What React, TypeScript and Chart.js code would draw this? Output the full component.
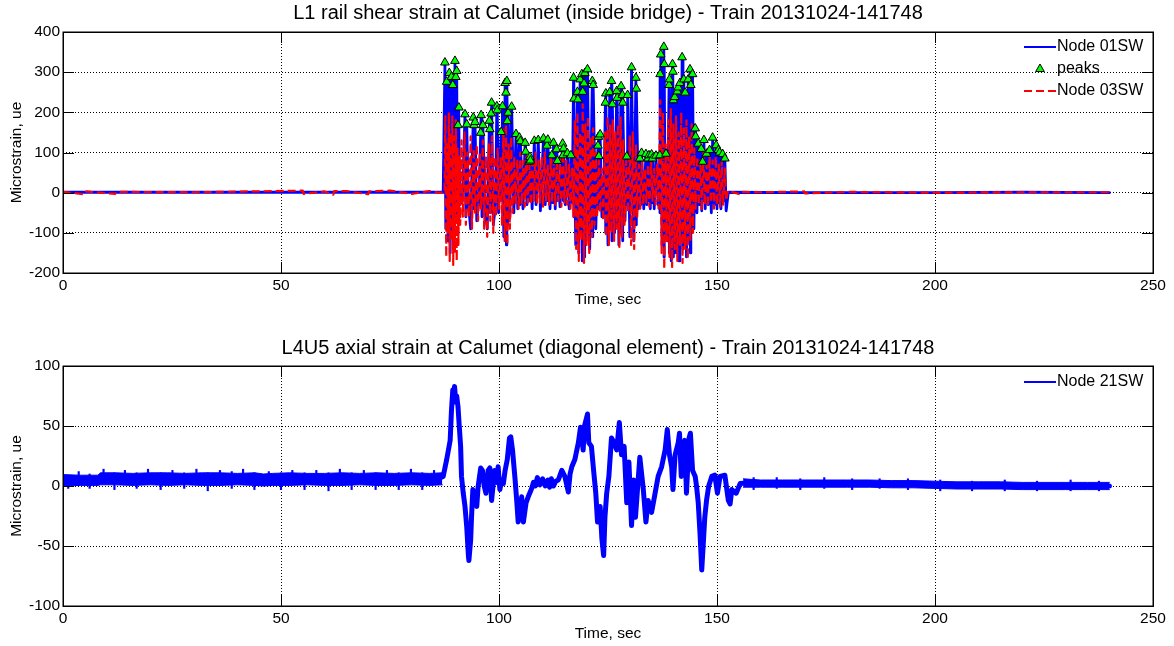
import React, { useEffect, useRef } from 'react';
import { Chart, registerables } from 'chart.js';

Chart.register(...registerables);

const FONT = '"Liberation Sans", Arial, Helvetica, sans-serif';

// ---------- text ----------
const topTitle = 'L1 rail shear strain at Calumet (inside bridge) - Train 20131024-141748';
const bottomTitle = 'L4U5 axial strain at Calumet (diagonal element) - Train 20131024-141748';
const xLabel = 'Time, sec';
const yLabel = 'Microstrain, ue';

// ---------- axes ----------
const xRange = [0, 250];
const xStep = 50;
const topYRange = [-200, 400];
const topYStep = 100;
const bottomYRange = [-100, 100];
const bottomYStep = 50;

// ---------- Node 01SW (blue) ----------
const node01Before: [number, number][] = [[0, 1], [20, 1], [40, 1], [60, 1], [80, 1], [87.2, 1]];
const node01Peaks: [number, number][] = [
  [87.6, 324], [88.0, 276], [88.6, 298], [89.1, 288], [89.4, 268], [89.9, 328], [90.1, 288], [90.3, 303],
  [90.6, 168], [90.8, 212], [92.2, 195], [92.6, 170], [94.1, 187], [94.3, 168], [94.5, 176], [95.8, 149],
  [95.9, 193], [96.3, 168], [97.8, 179], [97.9, 158], [98.2, 197], [98.3, 224], [99.5, 215], [99.6, 205],
  [100.5, 151], [100.8, 215], [101.4, 273], [101.6, 249], [101.8, 278], [101.9, 178], [102.1, 199], [102.9, 214],
  [103.9, 146], [104.7, 137], [104.9, 128], [106.0, 124], [106.1, 102], [106.9, 77], [107.1, 89], [107.2, 80],
  [108.1, 129], [109.0, 131], [110.2, 135], [111.0, 117], [111.2, 132], [112.1, 93], [112.5, 124], [113.2, 108],
  [113.4, 79], [114.6, 122], [114.7, 93], [114.8, 110], [115.7, 98], [116.5, 93], [117.1, 286], [117.2, 234],
  [118.0, 251], [118.1, 232], [118.6, 282], [119.0, 295], [119.2, 251], [119.5, 272], [119.7, 298], [120.3, 307],
  [121.4, 278], [121.6, 268], [122.7, 117], [122.8, 139], [122.9, 91], [123.2, 145], [124.4, 224], [124.5, 247],
  [125.4, 250], [125.8, 278], [126.0, 220], [127.0, 253], [127.1, 236], [128.0, 265], [128.3, 243], [128.4, 224],
  [129.3, 90], [129.5, 243], [130.4, 312], [131.4, 286], [131.5, 259], [132.3, 85], [132.7, 99], [133.7, 96],
  [134.2, 85], [134.4, 93], [135.0, 95], [135.2, 85], [136.0, 92], [136.9, 93], [136.95, 295], [137.1, 344],
  [137.8, 363], [137.9, 320], [138.3, 97], [139.0, 268], [139.1, 282], [139.8, 320], [139.9, 301], [140.0, 230],
  [140.3, 238], [140.9, 252], [141.1, 262], [141.5, 273], [142.0, 337], [142.4, 282], [142.7, 249], [143.4, 282],
  [143.8, 307], [144.0, 268], [144.4, 295], [145.0, 160], [145.1, 140], [145.7, 122], [146.4, 109], [146.7, 77],
  [147.0, 131], [147.6, 97], [148.3, 106], [149.0, 137], [149.8, 118], [150.3, 106], [150.6, 100], [151.3, 96],
  [151.8, 85],
];
const node01Troughs: [number, number][] = [
  [87.8, -90], [88.3, -120], [88.8, -150], [89.2, -110], [89.6, -140], [90.0, -60], [90.45, -40], [90.7, -80],
  [91.0, -30], [91.6, -20], [92.4, -60], [93.0, -30], [93.5, -90], [94.2, -40], [94.9, -70], [95.4, -20],
  [96.1, -60], [96.8, -40], [97.3, -90], [98.0, -50], [98.7, -80], [99.2, -30], [99.9, -50], [100.6, -20],
  [101.1, -110], [101.5, -60], [101.7, -130], [102.0, -80], [102.5, -60], [103.4, -50], [104.3, -40], [104.8, -30],
  [105.5, -40], [106.4, -30], [107.0, -20], [107.6, -40], [108.5, -30], [109.5, -45], [110.6, -30], [111.1, -20],
  [111.7, -40], [112.3, -25], [112.9, -40], [113.3, -20], [114.0, -35], [114.75, -20], [115.2, -30], [116.1, -40],
  [116.8, -25], [117.15, -60], [117.6, -130], [118.05, -80], [118.3, -150], [118.8, -100], [119.1, -170], [119.35, -120],
  [119.6, -160], [120.0, -120], [120.8, -140], [121.5, -110], [122.2, -90], [122.75, -20], [122.85, -40], [123.6, -60],
  [124.0, -50], [124.45, -100], [125.0, -130], [125.6, -90], [125.9, -120], [126.5, -100], [127.05, -80], [127.5, -130],
  [128.15, -100], [128.35, -120], [128.9, -70], [129.4, -30], [130.0, -110], [130.9, -120], [131.45, -80], [132.0, -40],
  [132.5, -30], [133.2, -40], [133.9, -30], [134.3, -20], [134.7, -40], [135.1, -25], [135.6, -40], [136.5, -30],
  [136.92, -50], [137.4, -130], [137.85, -160], [138.1, -60], [138.6, -120], [139.05, -150], [139.5, -170], [139.85, -110],
  [139.95, -160], [140.15, -100], [140.6, -150], [141.0, -120], [141.3, -170], [141.7, -110], [142.2, -140], [142.5, -120],
  [143.0, -160], [143.6, -110], [143.9, -150], [144.2, -100], [144.7, -90], [145.05, -20], [145.4, -50], [146.0, -30],
  [146.5, -45], [146.85, -20], [147.3, -40], [148.0, -30], [148.7, -50], [149.4, -30], [150.0, -40], [150.45, -25],
  [150.9, -40], [151.5, -20], [152.1, -45],
];
const node01After: [number, number][] = [[152.6, 1], [170, 0], [200, 0], [220, 1], [240, 0]];

// ---------- Node 03SW (red dashed) ----------
const node03Before: [number, number][] = [
  [0, 2], [5, -4], [5.3, 3], [12, -3], [12.2, 2], [30, 1], [55, 5], [55.2, -3], [60, 3], [62, -5], [62.2, 4],
  [65, 4], [70, -4], [70.2, 3], [75, 5], [80, -3], [84, 4], [86, 0], [87.5, 0],
];
const node03Swing: [number, number][] = [
  [87.7, 190], [87.9, -160], [88.1, 120], [88.3, -100], [88.5, 200], [88.7, -170], [88.9, 150], [89.1, -120],
  [89.3, 190], [89.5, -180], [89.7, 140], [89.9, -150], [90.1, 180], [90.3, -170], [90.5, 110], [90.7, -130],
  [90.9, 90], [91.1, -80], [91.4, 130], [91.7, -60], [92.1, 150], [92.4, -80], [92.8, 100], [93.1, -60],
  [93.5, 140], [93.8, -90], [94.2, 110], [94.5, -50], [94.9, 120], [95.2, -70], [95.6, 100], [95.9, -40],
  [96.3, 130], [96.6, -90], [97.0, 90], [97.3, -110], [97.7, 120], [98.0, -70], [98.4, 140], [98.7, -100],
  [99.0, 90], [99.3, -60], [99.7, 110], [100.0, -40], [100.4, 90], [100.7, -80], [101.0, 160], [101.3, -120],
  [101.6, 170], [101.9, -130], [102.2, 120], [102.5, -90], [102.8, 140], [103.1, -50], [103.5, 90], [103.8, -30],
  [104.2, 80], [104.5, -40], [104.9, 100], [105.2, -30], [105.6, 80], [105.9, -35], [106.3, 90], [106.6, -25],
  [107.0, 70], [107.3, -30], [107.7, 90], [108.0, -20], [108.4, 100], [108.7, -30], [109.1, 80], [109.4, -25],
  [109.8, 90], [110.1, -35], [110.5, 100], [110.8, -20], [111.2, 70], [111.5, -30], [111.9, 90], [112.2, -25],
  [112.6, 80], [112.9, -30], [113.3, 70], [113.6, -20], [114.0, 90], [114.3, -35], [114.7, 100], [115.0, -25],
  [115.4, 80], [115.7, -30], [116.1, 70], [116.4, -40], [116.8, 60], [117.1, -60], [117.4, 180], [117.7, -140],
  [118.0, 200], [118.3, -170], [118.6, 150], [118.9, -120], [119.2, 220], [119.5, -175], [119.8, 170], [120.1, -130],
  [120.4, 190], [120.7, -150], [121.0, 140], [121.3, -110], [121.6, 160], [121.9, -80], [122.2, 100], [122.5, -60],
  [122.9, 80], [123.2, -50], [123.6, 60], [123.9, -70], [124.3, 150], [124.6, -110], [124.9, 190], [125.2, -130],
  [125.5, 170], [125.8, -100], [126.1, 180], [126.4, -120], [126.7, 150], [127.0, -90], [127.3, 170], [127.6, -135],
  [127.9, 190], [128.2, -110], [128.5, 130], [128.8, -80], [129.2, 80], [129.6, -50], [130.0, 140], [130.3, -130],
  [130.7, 150], [131.0, -140], [131.4, 120], [131.7, -60], [132.1, 70], [132.4, -40], [132.8, 80], [133.1, -30],
  [133.5, 60], [133.8, -25], [134.2, 70], [134.5, -35], [134.9, 80], [135.2, -20], [135.6, 60], [135.9, -30],
  [136.3, 70], [136.6, -40], [137.0, 230], [137.3, -150], [137.6, 200], [137.9, -190], [138.2, 120], [138.5, -120],
  [138.8, 180], [139.1, -160], [139.4, 210], [139.7, -185], [140.0, 170], [140.3, -140], [140.6, 190], [140.9, -170],
  [141.2, 150], [141.5, -130], [141.8, 200], [142.1, -175], [142.4, 160], [142.7, -140], [143.0, 180], [143.3, -165],
  [143.6, 140], [143.9, -120], [144.2, 170], [144.5, -100], [144.8, 110], [145.1, -40], [145.5, 90], [145.8, -30],
  [146.2, 80], [146.5, -45], [146.9, 100], [147.2, -30], [147.6, 70], [147.9, -35], [148.3, 90], [148.6, -25],
  [149.0, 80], [149.3, -40], [149.7, 90], [150.0, -30], [150.4, 70], [150.7, -35], [151.1, 80], [151.4, -30],
  [151.8, 60], [152.1, -20], [152.5, 5],
];
const node03After: [number, number][] = [
  [153, 3], [155, -3], [155.3, 2], [160, 1], [170, 3], [170.2, -2], [180, 2], [200, 0], [220, 1], [240, 1],
];

// ---------- Node 21SW (blue, bottom) ----------
const node21Trace: [number, number][] = [
  [0, 4], [8, 4], [9, 6], [20, 6], [30, 6], [46, 5], [60, 5], [75, 5], [86, 6], [87.2, 8], [88.0, 22],
  [88.8, 38], [89.1, 63], [89.4, 80], [89.6, 74], [89.8, 83], [90.1, 70], [90.3, 75], [90.6, 66], [90.9, 49],
  [91.2, 33], [91.4, 8],
  [91.8, -6], [92.2, -17], [92.6, -34], [93.0, -59], [93.1, -62], [93.5, -45], [93.7, -26], [94.0, -3],
  [94.2, -5], [94.5, -12], [94.9, -17], [95.2, -1], [95.8, 15], [96.2, 13], [96.6, 0], [97.0, -6], [97.5, 13],
  [97.9, 15], [98.3, -12], [98.6, -1], [99.0, 13], [99.5, 3], [99.8, 16], [100.2, -3], [100.6, 5], [101.0, 2],
  [101.4, 13], [101.9, 22], [102.4, 40], [102.7, 41], [103.1, 30], [103.7, 5], [104.1, -14], [104.4, -30],
  [104.8, -24], [105.2, -9], [105.6, -30], [106.2, -14], [106.7, -9], [107.4, -3], [107.9, 3], [108.3, 0],
  [108.8, 7], [109.4, 1], [110.0, 6], [110.6, 0], [111.2, 5], [111.6, -1], [112.0, 6], [112.5, 0], [113.0, 4],
  [113.6, 5], [114.0, 9], [114.4, 13], [115.1, 8], [115.9, -5], [116.3, 10], [116.7, 16], [117.4, 22], [118.2, 36],
  [118.7, 49], [119.3, 30], [119.6, 50], [120.3, 60], [120.6, 36], [121.2, 33], [121.7, 13], [122.2, -6],
  [122.6, -30], [123.2, -17], [123.6, -44], [124.0, -58], [124.3, -26], [124.7, -6], [125.2, 8], [125.8, 40],
  [126.4, 36], [127.0, 30], [127.6, 53], [128.1, 26], [128.7, 33], [129.3, -14], [129.8, 20], [130.4, -33],
  [130.9, 5], [131.3, -26], [132.3, 24], [133.1, -3], [133.7, -30], [134.2, -12], [135.0, -22], [135.8, -6],
  [136.5, 8], [137.3, 16], [138.1, 30], [138.6, 47], [139.1, 26], [139.6, 16], [139.9, -3], [140.4, 26],
  [141.1, 36], [141.4, 44], [141.8, 8], [142.2, 30], [142.6, 38], [143.0, -6], [143.6, 40], [143.9, 44],
  [144.4, 13], [145.0, 8], [145.3, 0], [145.7, -14], [146.1, -39], [146.5, -70], [146.9, -45], [147.2, -26],
  [147.6, -12], [148.1, 0], [148.8, 8], [149.5, 9], [150.1, -6], [150.7, 8], [151.8, 9], [152.6, -12],
  [153.0, -15], [153.4, -3], [154.4, -6], [155.3, 2], [158, 3], [165, 2], [180, 2], [200, 1], [220, 0], [240, 0],
];
const earlyNoiseTime = [0, 4, 8, 8.6, 12, 16, 20, 24, 28, 32, 36, 40, 44, 46, 48, 52, 56, 60, 64, 68, 72, 76, 80, 84, 87];
const earlyNoiseUpper = [9.5, 9, 9, 11, 11, 10.5, 11, 11, 10.5, 11, 11, 10.5, 11, 10, 10.5, 11, 10.5, 10.5, 11, 10.5, 11, 10.5, 11, 10.5, 11];
const earlyNoiseLower = [0, 0.5, 0.5, 1, 1, 0.5, 1, 0.5, 1, 0.5, 0.5, 1, 0.5, 0, 0.5, 0.5, 1, 0.5, 0.5, 1, 0.5, 0.5, 1, 0.5, 1];
// short noise spikes: [time, low, high]
const earlySpikes: [number, number, number][] = [
  [1.2, -2, 9], [3.6, 0, 12], [6.1, -2, 10], [9.3, 2, 14], [11.8, -3, 11], [14.2, 2, 13], [16.9, -2, 11],
  [19.5, 2, 14], [22.4, -3, 11], [25.1, 2, 13], [27.8, -2, 11], [30.6, 2, 14], [33.2, -4, 11], [36.0, 2, 13],
  [38.7, -2, 12], [41.3, 2, 14], [43.9, -3, 11], [47.2, 1, 12], [50.0, -3, 11], [52.6, 2, 13], [55.4, -3, 11],
  [58.1, 2, 13], [60.9, -4, 11], [63.5, 2, 14], [66.2, -3, 11], [69.0, 2, 13], [71.7, -3, 11], [74.3, 2, 13],
  [77.0, -3, 11], [79.8, 2, 14], [82.4, -3, 11], [85.1, 2, 13],
];
const lateNoiseTime = [156, 160, 165, 170, 175, 180, 185, 190, 195, 200, 205, 210, 215, 220, 225, 230, 235, 240];
const lateNoiseUpper = [6, 5, 5, 5, 5, 5, 5, 4.5, 4.5, 4, 3.5, 3.5, 3.5, 3, 3, 3, 3, 3];
const lateNoiseLower = [-1, -1, -1, -1, -1, -1, -1, -1.5, -1.5, -2, -2.5, -2.5, -2.5, -3, -3, -3, -3, -3];
const lateSpikes: [number, number, number][] = [
  [158.4, -3, 7], [163.7, -2, 7], [169.1, -3, 6], [174.6, -2, 7], [181.0, -3, 6], [187.3, -2, 6],
  [193.8, -3, 6], [201.2, -4, 5], [208.5, -4, 4], [216.0, -4, 5], [223.4, -4, 4], [231.1, -4, 5], [237.6, -4, 4],
];

// ---------- helpers ----------
const toXY = (arr: [number, number][]) => arr.map(([x, y]) => ({ x, y }));
const zipXY = (t: number[], v: number[]) => t.map((x, i) => ({ x, y: v[i] }));
const toSpikes = (arr: [number, number, number][]) => arr.map(([x, lo, hi]) => ({ x, y: [lo, hi] }));

const BLUE = '#0000ff';
const RED = '#ff0000';
const GREEN = '#00ff00';

const matlabPlugin = {
  id: 'matlabAxes',
  afterDatasetsDraw(chart: any, _args: any, opts: any) {
    const { ctx, chartArea: a, scales } = chart;
    const xs = scales.x;
    const ys = scales.y;
    ctx.save();
    ctx.setLineDash([]);
    ctx.strokeStyle = '#000';
    ctx.lineWidth = 1;
    const tl = 11;
    ctx.beginPath();
    xs.ticks.forEach((t: any) => {
      const px = Math.round(xs.getPixelForValue(t.value)) + 0.5;
      ctx.moveTo(px, a.bottom);
      ctx.lineTo(px, a.bottom - tl);
      ctx.moveTo(px, a.top);
      ctx.lineTo(px, a.top + tl);
    });
    ys.ticks.forEach((t: any) => {
      const py = Math.round(ys.getPixelForValue(t.value)) + 0.5;
      ctx.moveTo(a.left, py);
      ctx.lineTo(a.left + tl, py);
      ctx.moveTo(a.right, py);
      ctx.lineTo(a.right - tl, py);
    });
    ctx.stroke();
    ctx.lineWidth = 1.5;
    ctx.strokeRect(Math.round(a.left) + 0.25, Math.round(a.top) + 0.25, Math.round(a.right - a.left), Math.round(a.bottom - a.top));

    const items = (opts && opts.items) || [];
    ctx.font = `16px ${FONT}`;
    ctx.textBaseline = 'middle';
    ctx.textAlign = 'left';
    items.forEach((it: any, i: number) => {
      const y = a.top + opts.firstRow + i * opts.rowGap;
      const x0 = a.right - opts.lineStart;
      const x1 = a.right - opts.lineEnd;
      if (it.kind === 'solid' || it.kind === 'dashed') {
        ctx.beginPath();
        ctx.strokeStyle = it.color;
        ctx.lineWidth = 2;
        ctx.setLineDash(it.kind === 'dashed' ? [8, 4] : []);
        ctx.moveTo(x0, y);
        ctx.lineTo(x1, y);
        ctx.stroke();
        ctx.setLineDash([]);
      } else {
        const cx = (x0 + x1) / 2;
        const r = 5;
        ctx.beginPath();
        ctx.moveTo(cx, y - r);
        ctx.lineTo(cx + r * 0.866, y + r * 0.5);
        ctx.lineTo(cx - r * 0.866, y + r * 0.5);
        ctx.closePath();
        ctx.fillStyle = it.color;
        ctx.fill();
        ctx.strokeStyle = '#000';
        ctx.lineWidth = 1;
        ctx.stroke();
      }
      ctx.fillStyle = '#000';
      ctx.fillText(it.label, a.right - opts.textOffset, y);
    });
    ctx.restore();
  },
};

function makeOptions(p: {
  title: string; titlePad: { top: number; bottom: number }; yMin: number; yMax: number; yStep: number;
  xAxisHeight: number; xTitleBottom: number; legend: any;
}) {
  return {
    responsive: false,
    animation: false as const,
    events: [],
    layout: { padding: { left: 0, right: 21, top: 0, bottom: 0 } },
    elements: { point: { radius: 0 }, line: { borderJoinStyle: 'round' as const, borderCapStyle: 'round' as const } },
    plugins: {
      legend: { display: false },
      tooltip: { enabled: false },
      title: {
        display: true,
        fullSize: false,
        text: p.title,
        color: '#000',
        font: { family: FONT, size: 20, weight: 'normal' as const },
        padding: p.titlePad,
      },
      matlabAxes: p.legend,
    },
    scales: {
      x: {
        type: 'linear' as const,
        min: xRange[0],
        max: xRange[1],
        offset: false,
        afterFit: (s: any) => { s.height = p.xAxisHeight; },
        ticks: { stepSize: xStep, color: '#000', font: { family: FONT, size: 15.5 }, padding: 3, maxRotation: 0 },
        grid: { color: '#000', lineWidth: 1, drawTicks: false, offset: false },
        border: { display: false, dash: [1, 2] },
        title: {
          display: true, text: xLabel, color: '#000',
          font: { family: FONT, size: 15.5 }, padding: { top: 0, bottom: p.xTitleBottom },
        },
      },
      y: {
        type: 'linear' as const,
        min: p.yMin,
        max: p.yMax,
        stacked: false,
        afterFit: (s: any) => { s.width = 63; },
        ticks: { stepSize: p.yStep, color: '#000', font: { family: FONT, size: 15.5 }, padding: 3 },
        grid: { color: '#000', lineWidth: 1, drawTicks: false },
        border: { display: false, dash: [1, 2] },
        title: {
          display: true, text: yLabel, color: '#000',
          font: { family: FONT, size: 15.5 }, padding: { top: 7.7, bottom: 0 },
        },
      },
    },
  };
}

function TopChart() {
  const ref = useRef<HTMLCanvasElement>(null);
  useEffect(() => {
    if (!ref.current) return;
    const peaksAndTroughs = [...node01Peaks, ...node01Troughs].sort((a, b) => a[0] - b[0]);
    const blue = [...node01Before, ...peaksAndTroughs, ...node01After];
    const red = [...node03Before, ...node03Swing, ...node03After];
    const chart = new Chart(ref.current, {
      type: 'line',
      data: {
        datasets: [
          {
            label: 'peaks', data: toXY(node01Peaks), showLine: false, order: 0,
            pointStyle: 'triangle', pointRadius: 5, pointBackgroundColor: GREEN,
            pointBorderColor: '#000', pointBorderWidth: 1,
          },
          {
            label: 'Node 03SW', data: toXY(red), borderColor: RED, borderWidth: 2.2, borderDash: [8, 4],
            borderCapStyle: 'butt', pointRadius: 0, order: 1, tension: 0,
          },
          {
            label: 'Node 01SW', data: toXY(blue), borderColor: BLUE, borderWidth: 2.8, pointRadius: 0, order: 2, tension: 0,
          },
        ],
      },
      options: makeOptions({
        title: topTitle,
        titlePad: { top: 1.5, bottom: 6.5 },
        yMin: topYRange[0], yMax: topYRange[1], yStep: topYStep,
        xAxisHeight: 47, xTitleBottom: 10.7,
        legend: {
          firstRow: 15, rowGap: 22, lineStart: 129, lineEnd: 97, textOffset: 96,
          items: [
            { label: 'Node 01SW', kind: 'solid', color: BLUE },
            { label: 'peaks', kind: 'marker', color: GREEN },
            { label: 'Node 03SW', kind: 'dashed', color: RED },
          ],
        },
      }) as any,
      plugins: [matlabPlugin],
    });
    return () => chart.destroy();
  }, []);
  return <canvas ref={ref} width={1174} height={320} style={{ display: 'block' }} />;
}

function BottomChart() {
  const ref = useRef<HTMLCanvasElement>(null);
  useEffect(() => {
    if (!ref.current) return;
    const chart = new Chart(ref.current, {
      type: 'line',
      data: {
        datasets: [
          { label: 'Node 21SW', data: toXY(node21Trace), borderColor: BLUE, borderWidth: 5, pointRadius: 0, order: 0 },
          { label: 'early-low', data: zipXY(earlyNoiseTime, earlyNoiseLower), borderColor: BLUE, borderWidth: 1, pointRadius: 0, order: 1 },
          { label: 'early-high', data: zipXY(earlyNoiseTime, earlyNoiseUpper), borderColor: BLUE, borderWidth: 1, pointRadius: 0, fill: '-1', backgroundColor: BLUE, order: 1 },
          { label: 'late-low', data: zipXY(lateNoiseTime, lateNoiseLower), borderColor: BLUE, borderWidth: 1, pointRadius: 0, order: 1 },
          { label: 'late-high', data: zipXY(lateNoiseTime, lateNoiseUpper), borderColor: BLUE, borderWidth: 1, pointRadius: 0, fill: '-1', backgroundColor: BLUE, order: 1 },
          { type: 'bar', label: 'early-spikes', data: toSpikes(earlySpikes), backgroundColor: BLUE, barThickness: 1.5, grouped: false, order: 2 },
          { type: 'bar', label: 'late-spikes', data: toSpikes(lateSpikes), backgroundColor: BLUE, barThickness: 1.5, grouped: false, order: 2 },
        ] as any,
      },
      options: makeOptions({
        title: bottomTitle,
        titlePad: { top: 16.5, bottom: 5.5 },
        yMin: bottomYRange[0], yMax: bottomYRange[1], yStep: bottomYStep,
        xAxisHeight: 40, xTitleBottom: 2.7,
        legend: {
          firstRow: 16, rowGap: 22, lineStart: 129, lineEnd: 97, textOffset: 96,
          items: [{ label: 'Node 21SW', kind: 'solid', color: BLUE }],
        },
      }) as any,
      plugins: [matlabPlugin],
    });
    return () => chart.destroy();
  }, []);
  return <canvas ref={ref} width={1174} height={326} style={{ display: 'block' }} />;
}

export default function App() {
  return (
    <div style={{ position: 'fixed', left: 0, top: 0, width: 1174, height: 646, background: '#fff' }}>
      <TopChart />
      <BottomChart />
    </div>
  );
}
